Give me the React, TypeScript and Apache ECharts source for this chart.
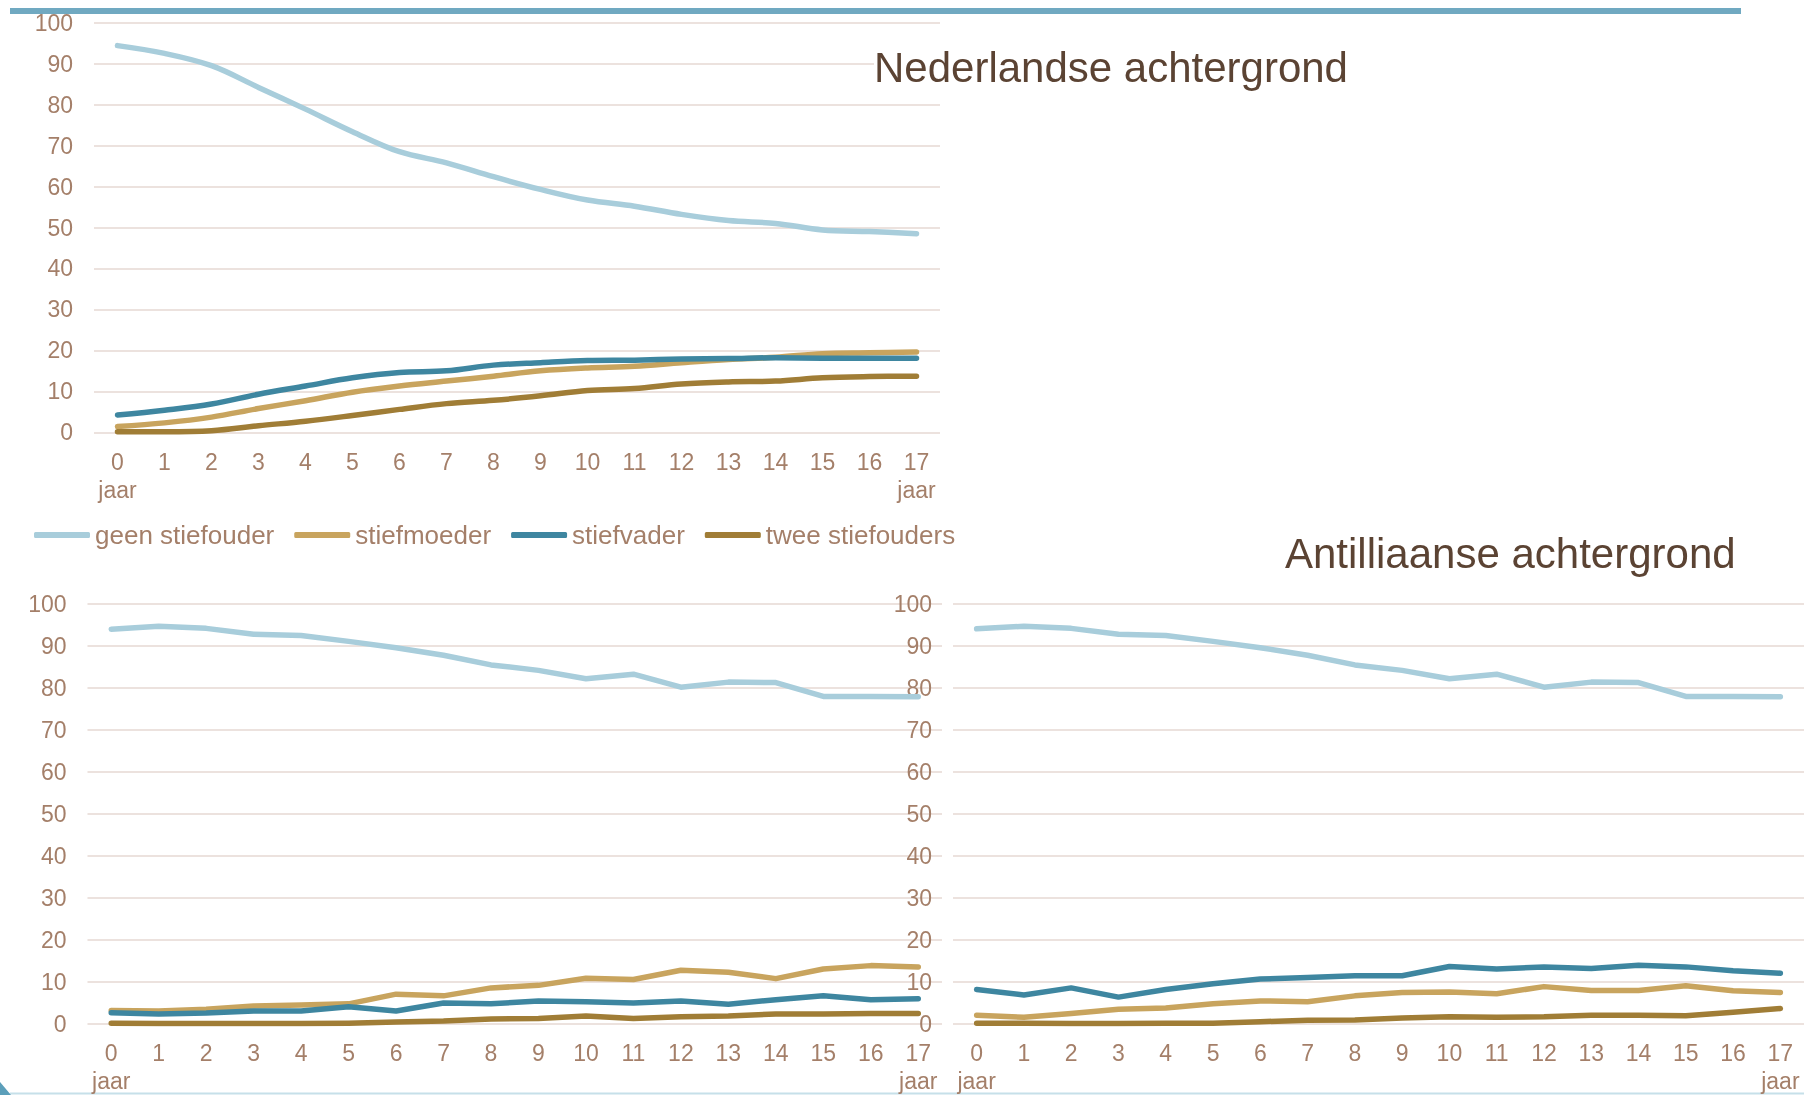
import React, { useEffect, useRef } from "react";
import * as echarts from "echarts";

const categories = ["0", "1", "2", "3", "4", "5", "6", "7", "8", "9", "10", "11", "12", "13", "14", "15", "16", "17"];
const seriesNames = ["geen stiefouder", "stiefmoeder", "stiefvader", "twee stiefouders"];
const yTicks = [0, 10, 20, 30, 40, 50, 60, 70, 80, 90, 100];

// Nederlandse achtergrond (top chart)
const nlGeen = [94.4, 92.5, 89.5, 84.2, 78.9, 73.4, 68.5, 65.8, 62.4, 59.3, 56.7, 55.2, 53.2, 51.7, 51.0, 49.4, 49.0, 48.5];
const nlMoeder = [1.4, 2.3, 3.7, 5.8, 7.7, 9.8, 11.3, 12.5, 13.7, 15.0, 15.7, 16.1, 17.0, 17.8, 18.3, 19.2, 19.4, 19.6];
const nlVader = [4.2, 5.4, 6.9, 9.3, 11.3, 13.3, 14.6, 15.0, 16.4, 17.0, 17.5, 17.6, 17.9, 18.0, 18.2, 18.1, 18.1, 18.1];
const nlTwee = [0.15, 0.15, 0.4, 1.6, 2.7, 4.1, 5.6, 7.0, 7.8, 8.9, 10.2, 10.7, 11.8, 12.3, 12.5, 13.3, 13.6, 13.7];

// bottom-left chart
const blGeen = [94.0, 94.7, 94.2, 92.8, 92.5, 91.1, 89.6, 87.8, 85.5, 84.2, 82.2, 83.3, 80.2, 81.4, 81.3, 78.0, 78.0, 77.9];
const blMoeder = [3.2, 3.1, 3.5, 4.3, 4.5, 4.8, 7.1, 6.7, 8.6, 9.2, 10.9, 10.6, 12.8, 12.3, 10.8, 13.1, 13.9, 13.6];
const blVader = [2.7, 2.4, 2.6, 3.1, 3.1, 4.1, 3.1, 5.0, 4.8, 5.5, 5.3, 5.0, 5.5, 4.7, 5.8, 6.7, 5.8, 6.0];
const blTwee = [0.2, 0.1, 0.1, 0.1, 0.1, 0.2, 0.5, 0.7, 1.2, 1.3, 1.9, 1.3, 1.7, 1.9, 2.4, 2.4, 2.5, 2.5];

// Antilliaanse achtergrond (bottom-right chart)
const anGeen = [94.1, 94.7, 94.2, 92.8, 92.5, 91.1, 89.6, 87.8, 85.5, 84.2, 82.2, 83.3, 80.2, 81.4, 81.3, 78.0, 78.0, 77.9];
const anMoeder = [2.1, 1.6, 2.5, 3.5, 3.8, 4.8, 5.5, 5.3, 6.7, 7.5, 7.6, 7.2, 8.9, 8.0, 8.0, 9.1, 7.9, 7.5];
const anVader = [8.2, 6.9, 8.6, 6.4, 8.2, 9.6, 10.7, 11.1, 11.5, 11.5, 13.7, 13.1, 13.6, 13.2, 14.0, 13.6, 12.7, 12.1];
const anTwee = [0.15, 0.15, 0.1, 0.1, 0.2, 0.15, 0.55, 0.9, 0.95, 1.4, 1.7, 1.6, 1.7, 2.1, 2.1, 1.95, 2.8, 3.7];

const titleNL = "Nederlandse achtergrond";
const titleAN = "Antilliaanse achtergrond";
const unitLabel = "jaar";

const COLORS = ["#a8cddb", "#c8a45e", "#3e86a0", "#a07d36"];
const TEXT = "#a47f69";
const FONT = "'Liberation Sans', Arial, sans-serif";

export default function App() {
  const ref = useRef<HTMLDivElement>(null);
  useEffect(() => {
    document.body.style.margin = "0";
    const chart = echarts.init(ref.current!, null, { renderer: "svg" });

    const grids = [
      { left: 94, width: 846, top: 22.7, height: 409.6 },
      { left: 87.5, width: 854.5, top: 604, height: 425 },
      { left: 953, width: 851, top: 604, height: 425 },
    ];
    const last = categories.length - 1;
    const xAxes = grids.map((g, i) => ({
      type: "category",
      gridIndex: i,
      data: categories,
      boundaryGap: true,
      axisLine: { show: false },
      axisTick: { show: false },
      axisLabel: {
        interval: 0,
        margin: i === 0 ? 16 : 15,
        color: TEXT,
        fontSize: 23,
        fontFamily: FONT,
        lineHeight: 28,
        formatter: (v: string, idx: number) => (idx === 0 || idx === last ? v + "\n" + unitLabel : v),
      },
    }));
    const yAxes = grids.map((g, i) => ({
      type: "value",
      gridIndex: i,
      min: yTicks[0],
      max: yTicks[yTicks.length - 1],
      interval: 10,
      axisLine: { show: false },
      axisTick: { show: false },
      axisLabel: { margin: 21, color: TEXT, fontSize: 23, fontFamily: FONT },
      splitLine: { lineStyle: { color: "#ece2de", width: 2 } },
    }));

    const sets = [
      [nlGeen, nlMoeder, nlVader, nlTwee],
      [blGeen, blMoeder, blVader, blTwee],
      [anGeen, anMoeder, anVader, anTwee],
    ];
    const series: any[] = [];
    sets.forEach((set, gi) => {
      set.forEach((data, si) => {
        series.push({
          type: "line",
          name: seriesNames[si],
          xAxisIndex: gi,
          yAxisIndex: gi,
          data,
          smooth: gi === 0 ? 0.35 : false,
          symbol: "none",
          itemStyle: { color: COLORS[si] },
          lineStyle: { color: COLORS[si], width: 5.5, cap: "round", join: "round" },
        });
      });
    });

    chart.setOption({
      animation: false,
      textStyle: { fontFamily: FONT },
      grid: grids.map((g) => ({ ...g, containLabel: false })),
      xAxis: xAxes,
      yAxis: yAxes,
      legend: {
        data: seriesNames,
        left: 34,
        top: 520,
        icon: "roundRect",
        itemWidth: 56,
        itemHeight: 6,
        itemGap: 20,
        padding: 0,
        textStyle: { color: TEXT, fontSize: 26, fontFamily: FONT, lineHeight: 30 },
      },
      graphic: [
        { type: "rect", shape: { x: 10, y: 8, width: 1731, height: 6 }, style: { fill: "#70a9c1" } },
        { type: "line", shape: { x1: 10, y1: 1093.5, x2: 1804, y2: 1093.5 }, style: { stroke: "#c6e0e9", lineWidth: 2 } },
        { type: "polygon", shape: { points: [[0, 1082], [11, 1095], [0, 1095]] }, style: { fill: "#5c9fba" } },
        {
          type: "text",
          x: 874,
          y: 67,
          z: 100,
          style: {
            text: titleNL,
            fontSize: 42,
            fontFamily: FONT,
            fill: "#5b4333",
            verticalAlign: "middle",
            align: "left",
            backgroundColor: "#ffffff",
          },
        },
        {
          type: "text",
          x: 1285,
          y: 553,
          z: 100,
          style: {
            text: titleAN,
            fontSize: 42,
            fontFamily: FONT,
            fill: "#5b4333",
            verticalAlign: "middle",
            align: "left",
            backgroundColor: "#ffffff",
          },
        },
      ],
      series,
    });
    return () => chart.dispose();
  }, []);
  return <div ref={ref} style={{ position: "fixed", left: 0, top: 0, width: 1804, height: 1095 }} />;
}
